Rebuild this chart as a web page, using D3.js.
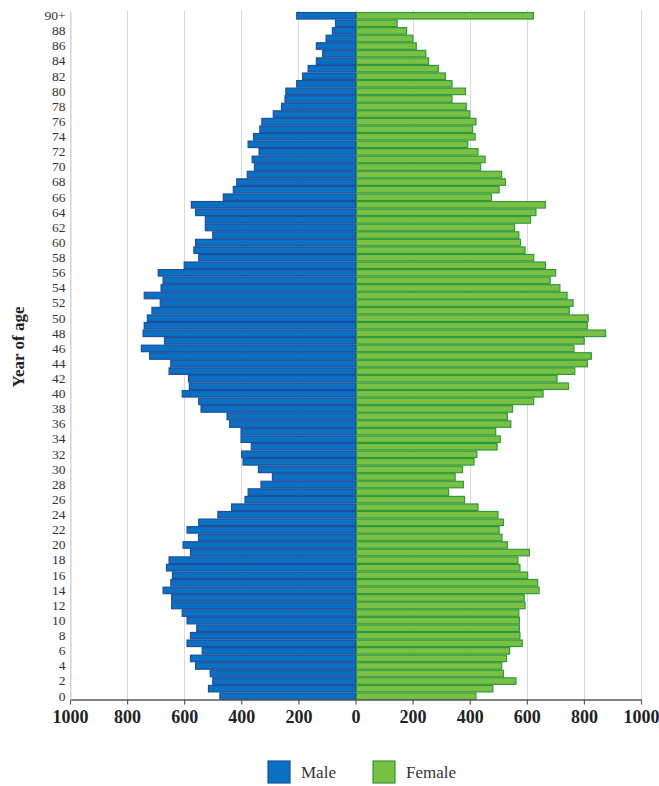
<!DOCTYPE html>
<html>
<head>
<meta charset="utf-8">
<script src="https://cdn.jsdelivr.net/npm/d3@7"></script>
<style>
  html, body { margin: 0; padding: 0; background: #fff; }
  svg { display: block; }
</style>
</head>
<body>
<div id="chart"></div>
<script>
// ---------- DATA ----------
const ages = d3.range(0, 90).map(String).concat(["90+"]);
const male = [
  475, 515, 500, 509, 560, 578, 537, 590, 578, 556,
  590, 607, 644, 644, 674, 647, 641, 662, 653, 578,
  604, 550, 590, 549, 482, 434, 387, 376, 331, 291,
  340, 394, 399, 365, 401, 401, 441, 450, 541, 549,
  607, 582, 585, 653, 647, 721, 750, 669, 744, 740,
  729, 713, 684, 740, 681, 674, 691, 600, 549, 566,
  560, 500, 526, 526, 560, 575, 463, 428, 416, 379,
  354, 362, 338, 376, 357, 335, 328, 288, 259, 247,
  244, 206, 185, 166, 137, 115, 137, 103, 81, 70,
  206
];
const female = [
  422, 481, 562, 518, 512, 529, 540, 584, 576, 574,
  574, 572, 594, 591, 643, 638, 603, 576, 569, 609,
  532, 513, 503, 518, 499, 429, 382, 326, 378, 349,
  375, 415, 425, 496, 507, 491, 544, 532, 550, 624,
  657, 746, 706, 768, 812, 826, 765, 801, 876, 812,
  815, 749, 762, 741, 716, 682, 701, 665, 624, 594,
  578, 572, 557, 613, 632, 665, 476, 503, 525, 512,
  438, 454, 429, 393, 419, 410, 422, 400, 388, 338,
  385, 338, 315, 290, 256, 246, 213, 201, 179, 146,
  623
];
const xTickValues = [-1000, -800, -600, -400, -200, 0, 200, 400, 600, 800, 1000];
const yTickLabels = ages.filter((a, i) => i % 2 === 0 || a === "90+");
const seriesNames = ["Male", "Female"];
const axisTitle = "Year of age";

// ---------- LAYOUT ----------
(function () {
const W = 659, H = 786;
const pLeft = 70, pRight = 641, pTop = 12, pBottom = 700;
const serif = "'Liberation Serif', 'Times New Roman', serif";
const maleFill = "#0a70c2", maleStroke = "#1d4f9c";
const femFill = "#7ac143", femStroke = "#2f9a3c";

const svg = d3.select("#chart").append("svg")
  .attr("width", W).attr("height", H);

const x = d3.scaleLinear().domain([-1000, 1000]).range([pLeft, pRight]);
const y = d3.scaleBand().domain(ages.slice().reverse()).range([pTop, pBottom]).paddingInner(0.14).paddingOuter(0.07);

// gridlines
svg.append("g").selectAll("line")
  .data(xTickValues)
  .join("line")
  .attr("x1", d => Math.round(x(d)) + 0.5)
  .attr("x2", d => Math.round(x(d)) + 0.5)
  .attr("y1", 10).attr("y2", pBottom)
  .attr("stroke", "#d9d9d9").attr("stroke-width", 1);

// bars
const rows = ages.map((a, i) => ({ age: a, m: male[i], f: female[i] }));
svg.append("g").selectAll("rect")
  .data(rows)
  .join("rect")
  .attr("x", d => x(-d.m))
  .attr("y", d => y(d.age))
  .attr("width", d => x(0) - x(-d.m))
  .attr("height", y.bandwidth())
  .attr("fill", maleFill)
  .attr("stroke", maleStroke)
  .attr("stroke-width", 1.2);

svg.append("g").selectAll("rect")
  .data(rows)
  .join("rect")
  .attr("x", x(0) + 1)
  .attr("y", d => y(d.age))
  .attr("width", d => x(d.f) - x(0) - 1)
  .attr("height", y.bandwidth())
  .attr("fill", femFill)
  .attr("stroke", femStroke)
  .attr("stroke-width", 1.2);

// bottom axis
const xAxis = d3.axisBottom(x)
  .tickValues(xTickValues)
  .tickFormat(d => Math.abs(d))
  .tickSize(5)
  .tickSizeOuter(0);
const gx = svg.append("g")
  .attr("transform", `translate(0,${pBottom - 0.5})`)
  .call(xAxis);
gx.select(".domain").attr("stroke", "#595959").attr("stroke-width", 1.5);
gx.selectAll(".tick line").attr("stroke", "#595959").attr("stroke-width", 1.2);
gx.selectAll(".tick text")
  .attr("y", 11)
  .attr("dy", "0.71em")
  .attr("fill", "#222")
  .style("font-family", serif)
  .style("font-size", "18px")
  .style("font-weight", "bold");

// left axis (labels only, light line)
const yAxis = d3.axisLeft(y)
  .tickValues(yTickLabels)
  .tickSize(0)
  .tickPadding(5);
const gy = svg.append("g")
  .attr("transform", `translate(${pLeft + 0.5},0)`)
  .call(yAxis);
gy.select(".domain").attr("stroke", "#d0d0d0").attr("stroke-width", 1);
gy.selectAll(".tick text")
  .attr("fill", "#333")
  .style("font-family", serif)
  .style("font-size", "13.5px");

// y axis title
svg.append("text")
  .attr("transform", `translate(24,347) rotate(-90)`)
  .attr("text-anchor", "middle")
  .style("font-family", serif)
  .style("font-size", "17px")
  .style("font-weight", "bold")
  .attr("fill", "#222")
  .text(axisTitle);

// legend
const legendItems = [
  { name: seriesNames[0], fill: maleFill, stroke: maleStroke, x: 268 },
  { name: seriesNames[1], fill: femFill, stroke: femStroke, x: 373 }
];
const lg = svg.append("g").selectAll("g")
  .data(legendItems)
  .join("g")
  .attr("transform", d => `translate(${d.x},761)`);
lg.append("rect")
  .attr("width", 22).attr("height", 22)
  .attr("fill", d => d.fill)
  .attr("stroke", d => d.stroke)
  .attr("stroke-width", 1.2);
lg.append("text")
  .attr("x", 33).attr("y", 17)
  .style("font-family", serif)
  .style("font-size", "17px")
  .attr("fill", "#333")
  .text(d => d.name);
})();
</script>
</body>
</html>
